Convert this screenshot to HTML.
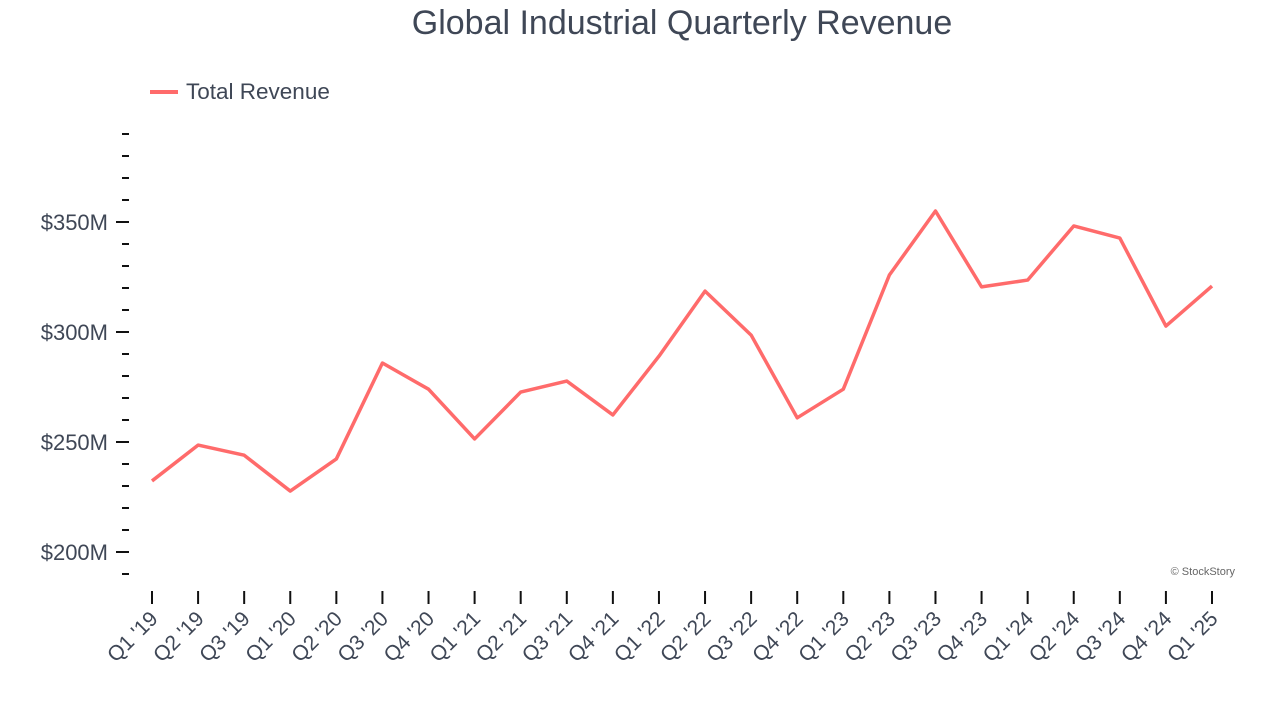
<!DOCTYPE html>
<html><head><meta charset="utf-8"><style>
body{margin:0;background:#fff;font-family:"Liberation Sans",Arial,sans-serif}
svg text{font-family:"Liberation Sans",Arial,sans-serif;fill:#3f4756}
</style></head><body>
<svg id="chart" width="1280" height="720" viewBox="0 0 1280 720">
<text x="682" y="34" text-anchor="middle" font-size="34">Global Industrial Quarterly Revenue</text>
<g>
<line x1="150" y1="92" x2="178" y2="92" stroke="#ff6b6b" stroke-width="4"/>
<text x="186" y="99" font-size="22.5">Total Revenue</text>
</g>
<text x="1235" y="575" text-anchor="end" font-size="11" style="fill:#666">© StockStory</text>
<g id="axes"></g>
<g id="series"></g>
</svg>
<script>
const categories=["Q1 '19","Q2 '19","Q3 '19","Q1 '20","Q2 '20","Q3 '20","Q4 '20","Q1 '21","Q2 '21","Q3 '21","Q4 '21","Q1 '22","Q2 '22","Q3 '22","Q4 '22","Q1 '23","Q2 '23","Q3 '23","Q4 '23","Q1 '24","Q2 '24","Q3 '24","Q4 '24","Q1 '25"];
const revenue=[232.3,248.6,244,227.7,242.3,285.9,274,251.4,272.7,277.7,262.3,289,318.6,298.6,261,274,325.9,355,320.5,323.6,348.2,342.7,302.7,320.9];
const yTicks=[200,250,300,350];
const yTickLabels=["$200M","$250M","$300M","$350M"];
const NS="http://www.w3.org/2000/svg";
const x=i=>152+i*(1212-152)/(categories.length-1);
const y=v=>552-(v-200)*2.2;
const axes=document.getElementById('axes'),series=document.getElementById('series');
function mk(t,a,p){const e=document.createElementNS(NS,t);for(const k in a)e.setAttribute(k,a[k]);p.appendChild(e);return e;}
for(let v=190;v<=390;v+=10){
 const major=yTicks.includes(v);
 const t=mk('line',{x1:major?116:122,x2:129,y1:y(v),y2:y(v),stroke:'#111','stroke-width':2},axes);
 
 
}
yTicks.forEach((v,i)=>{
 const t=mk('text',{x:108,y:y(v)+8,'text-anchor':'end','font-size':22},axes);
 t.textContent=yTickLabels[i];
 
 
});
categories.forEach((c,i)=>{
 const l=mk('line',{x1:x(i),x2:x(i),y1:591,y2:604,stroke:'#111','stroke-width':2},axes);
 
 
 const t=mk('text',{x:x(i)+7,y:620,'text-anchor':'end','font-size':21,transform:`rotate(-45 ${x(i)+7} 620)`},axes);
 t.textContent=c;
 
 
});
const p=mk('polyline',{points:revenue.map((v,i)=>x(i)+','+y(v)).join(' '),fill:'none',stroke:'#ff6b6b','stroke-width':3.5,'stroke-linejoin':'round'},series);


</script>
</body></html>
